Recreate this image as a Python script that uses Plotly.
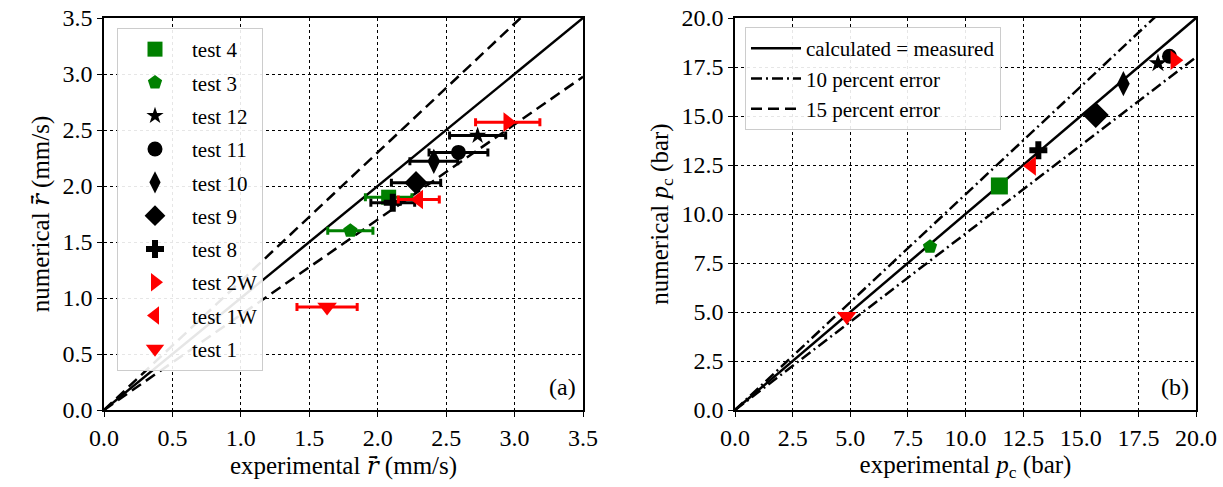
import plotly.graph_objects as go

# ---------------- data: panel (a) burning rate ----------------
tests = ["test 4", "test 3", "test 12", "test 11", "test 10", "test 9",
         "test 8", "test 2W", "test 1W", "test 1"]
symbols = ["square", "pentagon", "star", "circle", "diamond-tall", "diamond",
           "cross", "triangle-right", "triangle-left", "triangle-down"]
colors = ["#008000", "#008000", "black", "black", "black", "black",
          "black", "#ff0000", "#ff0000", "#ff0000"]
msize_a = [15, 15, 13, 15, 18, 18, 15, 17, 17, 17]

r_exp = [2.08, 1.80, 2.73, 2.59, 2.41, 2.28, 2.11, 2.95, 2.30, 1.63]
r_num = [1.90, 1.60, 2.45, 2.30, 2.22, 2.03, 1.85, 2.57, 1.88, 0.92]
r_err = [0.17, 0.165, 0.205, 0.215, 0.175, 0.18, 0.16, 0.235, 0.15, 0.22]

# ---------------- data: panel (b) chamber pressure ----------------
p_exp = [11.47, 8.46, 18.35, 18.85, 16.85, 15.65, 13.16, 19.08, 12.87, 4.85]
p_num = [11.43, 8.33, 17.69, 18.05, 16.65, 15.05, 13.25, 17.85, 12.45, 4.78]
msize_b = [17, 15, 14, 15, 18, 20, 15, 17, 17, 17]

# reference lines
line_a_x = [0.0, 3.5]
line_b_x = [0.0, 20.0]
factors_a = [1.0, 1.15, 0.85]
factors_b = [1.0, 1.1, 0.9]

FONT = "Liberation Serif"
RDOT = "<span style=\"font-family:'DejaVu Serif'\"><i>r\u0307\u0304</i></span>"

fig = go.Figure()

# reference lines, panel (a)
fig.add_trace(go.Scatter(x=line_a_x, y=[v * factors_a[0] for v in line_a_x], mode="lines",
                         line=dict(color="black", width=2.5), showlegend=False,
                         xaxis="x", yaxis="y"))
for f in factors_a[1:]:
    fig.add_trace(go.Scatter(x=line_a_x, y=[v * f for v in line_a_x], mode="lines",
                             line=dict(color="black", width=2.5, dash="11px,6px"),
                             showlegend=False, xaxis="x", yaxis="y"))

# data panel (a)
for i, t in enumerate(tests):
    fig.add_trace(go.Scatter(
        x=[r_exp[i]], y=[r_num[i]], mode="markers", name=t,
        marker=dict(symbol=symbols[i], color=colors[i], size=msize_a[i], line=dict(width=0)),
        error_x=dict(type="data", array=[r_err[i]], color=colors[i], thickness=3, width=4),
        legend="legend", legendgroup=t, xaxis="x", yaxis="y"))

# reference lines, panel (b)
fig.add_trace(go.Scatter(x=line_b_x, y=[v * factors_b[0] for v in line_b_x], mode="lines",
                         name="calculated = measured",
                         line=dict(color="black", width=2.5), legend="legend2",
                         xaxis="x2", yaxis="y2"))
for k, f in enumerate(factors_b[1:]):
    fig.add_trace(go.Scatter(x=line_b_x, y=[v * f for v in line_b_x], mode="lines",
                             name="10 percent error",
                             line=dict(color="black", width=2.5, dash="11px,4px,2px,4px"),
                             showlegend=(k == 0), legend="legend2", xaxis="x2", yaxis="y2"))
fig.add_trace(go.Scatter(x=[None], y=[None], mode="lines", name="15 percent error",
                         line=dict(color="black", width=2.5, dash="11px,6px"),
                         legend="legend2", xaxis="x2", yaxis="y2"))

# data panel (b)
for i, t in enumerate(tests):
    fig.add_trace(go.Scatter(
        x=[p_exp[i]], y=[p_num[i]], mode="markers", name=t,
        marker=dict(symbol=symbols[i], color=colors[i], size=msize_b[i], line=dict(width=0)),
        showlegend=False, xaxis="x2", yaxis="y2"))

W, H = 1223, 487
ax_common = dict(showline=True, linecolor="black", linewidth=1.5, mirror=True,
                 ticks="outside", ticklen=5, tickwidth=1.2, tickcolor="black",
                 showgrid=True, gridcolor="black", griddash="dot", gridwidth=1,
                 zeroline=False, tickfont=dict(family=FONT, size=24, color="black"),
                 tickformat=".1f", automargin=False)

fig.update_layout(
    width=W, height=H, margin=dict(l=0, r=0, t=0, b=0),
    paper_bgcolor="white", plot_bgcolor="white",
    font=dict(family=FONT, color="black"),
    xaxis=dict(domain=[104 / W, 583 / W], range=[0, 3.5], dtick=0.5, anchor="y",
               title=dict(text="experimental " + RDOT + " (mm/s)", font=dict(size=25), standoff=6),
               **ax_common),
    yaxis=dict(domain=[1 - 410 / H, 1 - 18 / H], range=[0, 3.5], dtick=0.5, anchor="x",
               title=dict(text="numerical " + RDOT + " (mm/s)", font=dict(size=25), standoff=6),
               **ax_common),
    xaxis2=dict(domain=[735 / W, 1196 / W], range=[0, 20], dtick=2.5, anchor="y2",
                title=dict(text="experimental <i>p</i><sub>c</sub> (bar)", font=dict(size=25), standoff=6),
                **ax_common),
    yaxis2=dict(domain=[1 - 410 / H, 1 - 18 / H], range=[0, 20], dtick=2.5, anchor="x2",
                title=dict(text="numerical <i>p</i><sub>c</sub> (bar)", font=dict(size=25), standoff=6),
                **ax_common),
    legend=dict(x=117 / W, y=1 - 28 / H, xanchor="left", yanchor="top",
                bgcolor="rgba(255,255,255,0.9)", bordercolor="#cccccc", borderwidth=1,
                font=dict(family=FONT, size=21, color="black"), tracegroupgap=3,
                itemwidth=64),
    legend2=dict(x=745 / W, y=1 - 27 / H, xanchor="left", yanchor="top",
                 bgcolor="rgba(255,255,255,0.9)", bordercolor="#cccccc", borderwidth=1,
                 font=dict(family=FONT, size=21, color="black"), itemwidth=50),
    annotations=[
        dict(text="(a)", xref="x domain", yref="y domain", x=0.99, y=0.02,
             xanchor="right", yanchor="bottom", showarrow=False,
             font=dict(family=FONT, size=24, color="black")),
        dict(text="(b)", xref="x2 domain", yref="y2 domain", x=0.99, y=0.02,
             xanchor="right", yanchor="bottom", showarrow=False,
             font=dict(family=FONT, size=24, color="black")),
    ],
)

fig.write_html("out.html")
